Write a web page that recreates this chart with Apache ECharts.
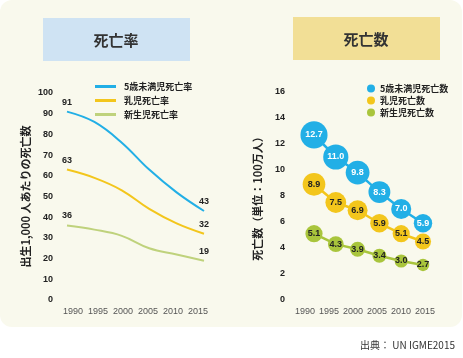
<!DOCTYPE html>
<html><head><meta charset="utf-8">
<script src="https://cdn.jsdelivr.net/npm/echarts@6/dist/echarts.min.js"></script>
<style>html,body{margin:0;padding:0;background:#fff}#c{width:463px;height:358px}</style>
</head><body><div id="c"></div>
<script>
const years = ['1990','1995','2000','2005','2010','2015'];
const rateNames = ['5歳未満児死亡率','乳児死亡率','新生児死亡率'];
const rateU5 = [91, 86, 76, 63, 52, 43];
const rateInfant = [63, 59, 53, 44, 37, 32];
const rateNeonatal = [36, 34, 31, 25, 22, 19];
const countNames = ['5歳未満児死亡数','乳児死亡数','新生児死亡数'];
const countU5 = [12.7, 11.0, 9.8, 8.3, 7.0, 5.9];
const countInfant = [8.9, 7.5, 6.9, 5.9, 5.1, 4.5];
const countNeonatal = [5.1, 4.3, 3.9, 3.4, 3.0, 2.7];
const rateTicks = [0,10,20,30,40,50,60,70,80,90,100];
const countTicks = [0,2,4,6,8,10,12,14,16];

const CJK = '"Noto Sans CJK JP","Noto Sans",sans-serif';
const NUM = '"Liberation Sans",Arial,sans-serif';
const NARROW = '"Liberation Sans Narrow","Liberation Sans",sans-serif';
const BLUE = '#22afe6', YEL = '#f3c61c', GRN_L = '#bfd27c', GRN_R = '#a9c53c';

const chart = echarts.init(document.getElementById('c'), null, {renderer:'canvas'});
const edgeLabel = (p) => (p.dataIndex === 0 || p.dataIndex === years.length - 1) ? String(p.value) : '';
const lineSeries = (name, data, color) => ({
  name, type:'line', data, xAxisIndex:0, yAxisIndex:0, smooth:0.4,
  symbol:'circle', symbolSize:0.1, showSymbol:true, showAllSymbol:true,
  lineStyle:{color, width:2}, itemStyle:{color},
  label:{show:true, position:'top', distance:5, formatter:edgeLabel, fontFamily:NUM, fontWeight:'bold', fontSize:9, color:'#222'},
  labelLayout:{hideOverlap:false}
});
const bubbleSeries = (name, data, color, txt) => ({
  name, type:'line', data, xAxisIndex:2, yAxisIndex:2,
  symbol:'circle', symbolSize:(v)=>7.6*Math.sqrt(v), showAllSymbol:true,
  lineStyle:{color, width:2.5}, itemStyle:{color},
  label:{show:true, position:'inside', formatter:(p)=>Number(p.value).toFixed(1),
         fontFamily:NUM, fontWeight:'bold', fontSize:9, color:txt, letterSpacing:-0.3}
});
const yLabel = (margin) => ({fontFamily:NUM, fontWeight:'bold', fontSize:9, color:'#222', margin});

chart.setOption({
  animation:false,
  backgroundColor:'#ffffff',
  graphic:[
    {type:'rect', shape:{x:0,y:0,width:462,height:327,r:12}, style:{fill:'#f9f9ed'}, z:-10},
    {type:'rect', shape:{x:43,y:18,width:147,height:43}, style:{fill:'#cfe3f3'}, z:-5},
    {type:'rect', shape:{x:293,y:17,width:147,height:43}, style:{fill:'#f2df96'}, z:-5},
    {type:'text', style:{text:'死亡率', x:116, y:40, align:'center', verticalAlign:'middle', font:'bold 15px '+CJK, fill:'#333'}},
    {type:'text', style:{text:'死亡数', x:366, y:39, align:'center', verticalAlign:'middle', font:'bold 15px '+CJK, fill:'#333'}},
    {type:'text', style:{text:'出典： UN IGME2015', x:455, y:345, align:'right', verticalAlign:'middle', font:'10px '+CJK, fill:'#333'}}
  ],
  legend:[
    {data:rateNames, orient:'vertical', left:90, top:77, itemWidth:21, itemHeight:3, itemGap:5, icon:'rect',
     textStyle:{fontFamily:CJK, fontWeight:'bold', fontSize:9, color:'#222', padding:[0,0,0,3]}},
    {data:countNames, orient:'vertical', left:362, top:79, itemWidth:8, itemHeight:8, itemGap:3, icon:'circle',
     textStyle:{fontFamily:CJK, fontWeight:'bold', fontSize:9, color:'#222'}}
  ],
  grid:[
    {left:67, top:93, width:137, height:207},
    {left:73, top:93, width:125, height:207},
    {left:314, top:92, width:109, height:208},
    {left:305, top:92, width:120, height:208}
  ],
  xAxis:[
    {gridIndex:0, type:'category', data:years, boundaryGap:false, show:false},
    {gridIndex:1, type:'category', data:years, boundaryGap:false, axisLine:{show:false}, axisTick:{show:false},
     axisLabel:{fontFamily:NARROW, fontSize:9, color:'#555', margin:7, interval:0}},
    {gridIndex:2, type:'category', data:years, boundaryGap:false, show:false},
    {gridIndex:3, type:'category', data:years, boundaryGap:false, axisLine:{show:false}, axisTick:{show:false},
     axisLabel:{fontFamily:NARROW, fontSize:9, color:'#555', margin:7, interval:0}}
  ],
  yAxis:[
    {gridIndex:0, type:'value', min:rateTicks[0], max:rateTicks[rateTicks.length-1], interval:10,
     axisLine:{show:false}, axisTick:{show:false}, splitLine:{show:false}, axisLabel:yLabel(14),
     name:'出生1,000 人あたりの死亡数', nameLocation:'middle', nameRotate:90, nameGap:36,
     nameTextStyle:{fontFamily:CJK, fontWeight:'bold', fontSize:11, color:'#222'}},
    {gridIndex:1, type:'value', min:0, max:100, show:false},
    {gridIndex:2, type:'value', min:countTicks[0], max:countTicks[countTicks.length-1], interval:2,
     axisLine:{show:false}, axisTick:{show:false}, splitLine:{show:false}, axisLabel:yLabel(29),
     name:'死亡数（単位：100万人）', nameLocation:'middle', nameRotate:90, nameGap:51,
     nameTextStyle:{fontFamily:CJK, fontWeight:'bold', fontSize:11, color:'#222'}},
    {gridIndex:3, type:'value', min:0, max:16, show:false}
  ],
  series:[
    lineSeries(rateNames[0], rateU5, BLUE),
    lineSeries(rateNames[1], rateInfant, YEL),
    lineSeries(rateNames[2], rateNeonatal, GRN_L),
    bubbleSeries(countNames[2], countNeonatal, GRN_R, '#222'),
    bubbleSeries(countNames[1], countInfant, YEL, '#222'),
    bubbleSeries(countNames[0], countU5, BLUE, '#fff')
  ]
});
</script></body></html>
